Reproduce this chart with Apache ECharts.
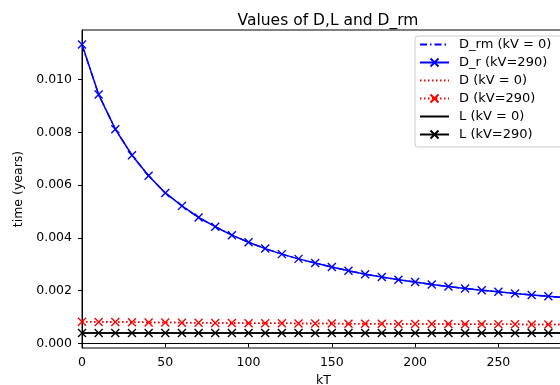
<!DOCTYPE html>
<html><head><meta charset="utf-8">
<script src="https://cdn.jsdelivr.net/npm/echarts@6/dist/echarts.min.js"></script>
<style>html,body{margin:0;padding:0;background:#fff}#c{width:560px;height:385px}</style>
</head><body><div id="c"></div>
<script>
const kT = [0,10,20,30,40,50,60,70,80,90,100,110,120,130,140,150,160,170,180,190,200,210,220,230,240,250,260,270,280,290];
const D_rm_kV0 = [0.01133,0.00943,0.00812,0.00713,0.00635,0.00570,0.00521,0.00477,0.00442,0.00410,0.00383,0.00359,0.00338,0.00320,0.00304,0.00289,0.00275,0.00262,0.00251,0.00241,0.00232,0.00223,0.00215,0.00208,0.00201,0.00195,0.00189,0.00183,0.00178,0.00173];
const D_r_kV290 = [0.01133,0.00943,0.00812,0.00713,0.00635,0.00570,0.00521,0.00477,0.00442,0.00410,0.00383,0.00359,0.00338,0.00320,0.00304,0.00289,0.00275,0.00262,0.00251,0.00241,0.00232,0.00223,0.00215,0.00208,0.00201,0.00195,0.00189,0.00183,0.00178,0.00173];
const D_kV0 = [0.00082,0.00081,0.00081,0.00080,0.00079,0.00079,0.00078,0.00078,0.00077,0.00077,0.00076,0.00076,0.00076,0.00075,0.00075,0.00075,0.00074,0.00074,0.00074,0.00073,0.00073,0.00073,0.00073,0.00072,0.00072,0.00072,0.00072,0.00071,0.00071,0.00071];
const D_kV290 = [0.00082,0.00081,0.00081,0.00080,0.00079,0.00079,0.00078,0.00078,0.00077,0.00077,0.00076,0.00076,0.00076,0.00075,0.00075,0.00075,0.00074,0.00074,0.00074,0.00073,0.00073,0.00073,0.00073,0.00072,0.00072,0.00072,0.00072,0.00071,0.00071,0.00071];
const L_kV0 = [0.00039,0.00039,0.00039,0.00039,0.00039,0.00039,0.00039,0.00039,0.00039,0.00039,0.00039,0.00039,0.00039,0.00039,0.00039,0.00039,0.00039,0.00039,0.00039,0.00039,0.00039,0.00039,0.00039,0.00039,0.00039,0.00039,0.00039,0.00039,0.00039,0.00039];
const L_kV290 = [0.00039,0.00039,0.00039,0.00039,0.00039,0.00039,0.00039,0.00039,0.00039,0.00039,0.00039,0.00039,0.00039,0.00039,0.00039,0.00039,0.00039,0.00039,0.00039,0.00039,0.00039,0.00039,0.00039,0.00039,0.00039,0.00039,0.00039,0.00039,0.00039,0.00039];
const xTicks = [0,50,100,150,200,250];
const yTicks = [0,0.002,0.004,0.006,0.008,0.010];
const legendNames = ['D_rm (kV = 0)','D_r (kV=290)','D (kV = 0)','D (kV=290)','L (kV = 0)','L (kV=290)'];

const FONT = 'DejaVu Sans';
const X = 'path://M0,0L10,10M10,0L0,10';
const CLEAR = 'rgba(0,0,0,0)';
const pairs = a => kT.map((k,i)=>[k,a[i]]);
function mk(name, data, color, type, marker){
  return {
    name, type:'line', data:pairs(data), animation:false,
    symbol: marker ? X : 'circle', symbolSize: 8, showSymbol: !!marker,
    itemStyle:{color:CLEAR, borderColor:marker?color:CLEAR, borderWidth:1.4},
    lineStyle:{color, width:1.5, type},
    emphasis:{disabled:true}
  };
}
const chart = echarts.init(document.getElementById('c'), null, {renderer:'canvas'});
chart.setOption({
  animation:false,
  backgroundColor:'#fff',
  title:{text:'Values of D,L and D_rm', left:323, top:8, textAlign:'center',
    textStyle:{fontFamily:FONT, fontSize:15.5, fontWeight:'normal', color:'#000'}},
  grid:{left:82, top:30, right:-5, bottom:37, show:true, borderColor:'#000', borderWidth:1,
    backgroundColor:'transparent', containLabel:false, outerBoundsMode:'none'},
  legend:{orient:'vertical', left:415, top:36, itemWidth:29, itemHeight:10, itemGap:5,
    padding:[2,20,6,4], backgroundColor:'#fff', borderColor:'#ccc', borderWidth:1, borderRadius:3,
    textStyle:{fontFamily:FONT, fontSize:13, color:'#000', padding:[0,0,0,5]},
    data:legendNames},
  xAxis:{type:'value', min:0, max:290, name:'kT', nameLocation:'middle', nameGap:24,
    nameTextStyle:{fontFamily:FONT, fontSize:12.5, color:'#000'},
    axisLine:{show:true, lineStyle:{color:'#000'}},
    axisTick:{show:true, length:4, lineStyle:{color:'#000'}, customValues:xTicks},
    axisLabel:{fontFamily:FONT, fontSize:12.5, color:'#000', margin:8, customValues:xTicks},
    splitLine:{show:false}},
  yAxis:{type:'value', min:-0.00018, max:0.01188, name:'time (years)', nameLocation:'middle', nameGap:55,
    nameTextStyle:{fontFamily:FONT, fontSize:12.5, color:'#000'},
    axisLine:{show:true, lineStyle:{color:'#000'}},
    axisTick:{show:true, length:4, lineStyle:{color:'#000'}, customValues:yTicks},
    axisLabel:{fontFamily:FONT, fontSize:12.5, color:'#000', margin:10, customValues:yTicks,
      formatter:v=>v.toFixed(3)},
    splitLine:{show:false}},
  series:[
    mk(legendNames[0], D_rm_kV0, '#0000ff', [7,3,1.5,3], false),
    mk(legendNames[1], D_r_kV290, '#0000ff', 'solid', true),
    mk(legendNames[2], D_kV0, '#ff0000', [1.5,2.5], false),
    mk(legendNames[3], D_kV290, '#ff0000', [1.5,2.5], true),
    mk(legendNames[4], L_kV0, '#000000', 'solid', false),
    mk(legendNames[5], L_kV290, '#000000', 'solid', true)
  ]
});
</script></body></html>
